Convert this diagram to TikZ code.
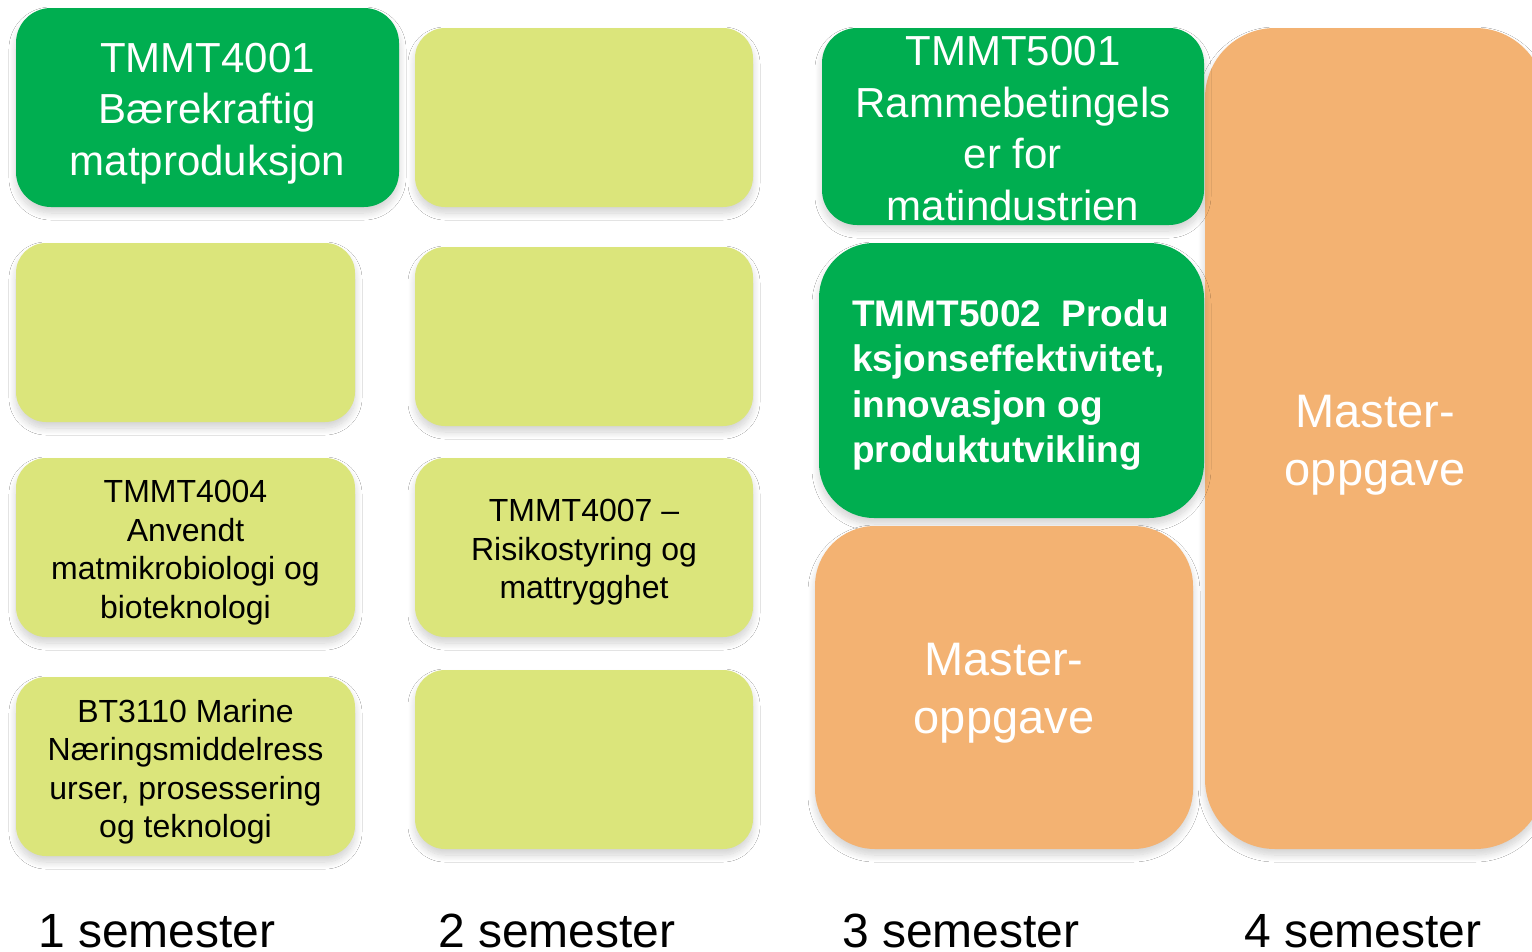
\documentclass[tikz,border=0pt]{standalone}
\usepackage{fontspec}
\setmainfont{Liberation Sans}
\usetikzlibrary{shadows.blur}
\definecolor{mygreen}{RGB}{0,174,80}
\definecolor{myyellow}{RGB}{219,229,123}
\definecolor{myorange}{RGB}{243,178,114}
\tikzset{
  base/.style={rectangle, inner sep=0pt,
    blur shadow={shadow xshift=0pt, shadow yshift=-6pt, shadow blur radius=7pt, shadow blur steps=10, shadow opacity=18}},
  gbox/.style={base, fill=mygreen},
  ybox/.style={base, fill=myyellow, rounded corners=30pt},
  obox/.style={base, fill=myorange},
  txt/.style={inner sep=0pt, align=center, yshift=-5pt},
  gtxt/.style={txt, text=white, font=\fontsize{42}{51.5}\selectfont},
  ytxt/.style={txt, text=black, font=\fontsize{32}{38.5}\selectfont},
  otxt/.style={txt, text=white, font=\fontsize{47}{58}\selectfont},
  semlabel/.style={anchor=base west, inner sep=0pt, font=\fontsize{48}{56}\selectfont},
}
\begin{document}
\begin{tikzpicture}[x=1pt,y=-1pt]
\useasboundingbox (0,0) rectangle (1532,951);
\clip (0,0) rectangle (1532,951);
\fill[white] (0,0) rectangle (1532,951);
% column 4 master
\node[obox, rounded corners=70pt, minimum width=340pt, minimum height=821pt] (m4) at (1375,438.5) {};
\node[otxt, yshift=-2pt] (m4t) at (m4.center) {Master-\\oppgave};
% column 1
\node[gbox, rounded corners=35pt, minimum width=383pt, minimum height=199pt] (c11) at (207.5,107.5) {};
\node[gtxt, yshift=-1pt] (c11t) at (c11.center) {TMMT4001\\Bærekraftig\\matproduksjon};
\node[ybox, minimum width=339pt, minimum height=179pt] (c12) at (185.5,332.5) {};
\node[ybox, minimum width=339pt, minimum height=179pt] (c13) at (185.5,547.5) {};
\node[ytxt] (c13t) at (c13.center) {TMMT4004\\Anvendt\\matmikrobiologi og\\bioteknologi};
\node[ybox, minimum width=339pt, minimum height=179pt] (c14) at (185.5,766.5) {};
\node[ytxt] (c14t) at (c14.center) {BT3110 Marine\\Næringsmiddelress\\urser, prosessering\\og teknologi};
% column 2
\node[ybox, minimum width=338pt, minimum height=179pt] (c21) at (584,117.5) {};
\node[ybox, minimum width=338pt, minimum height=179pt] (c22) at (584,336.5) {};
\node[ybox, minimum width=338pt, minimum height=179pt] (c23) at (584,547.5) {};
\node[ytxt] (c23t) at (c23.center) {TMMT4007 –\\Risikostyring og\\mattrygghet};
\node[ybox, minimum width=338pt, minimum height=179pt] (c24) at (584,759.5) {};
% column 3
\node[gbox, rounded corners=35pt, minimum width=382pt, minimum height=197pt] (c31) at (1013,126.5) {};
\node[gtxt, yshift=3pt] (c31t) at (c31.center) {TMMT5001\\Rammebetingels\\er for\\matindustrien};
\node[gbox, rounded corners=55pt, minimum width=385pt, minimum height=275pt] (c32) at (1011.5,380.5) {};
\node[anchor=west, inner sep=0pt, align=left, text=white, font=\fontsize{37}{45.5}\selectfont\bfseries] (c32t) at (852,385) {TMMT5002\ \ Produ\\ksjonseffektivitet,\\innovasjon og\\produktutvikling};
\node[obox, rounded corners=60pt, minimum width=378pt, minimum height=323pt] (c33) at (1004,687.5) {};
\node[otxt, yshift=-1pt] (c33t) at (c33.center) {Master-\\oppgave};
% semester labels
\node[semlabel] (s1) at (38,947) {1 semester};
\node[semlabel] (s2) at (438,947) {2 semester};
\node[semlabel] (s3) at (842,947) {3 semester};
\node[semlabel] (s4) at (1244,947) {4 semester};
\end{tikzpicture}
\end{document}
